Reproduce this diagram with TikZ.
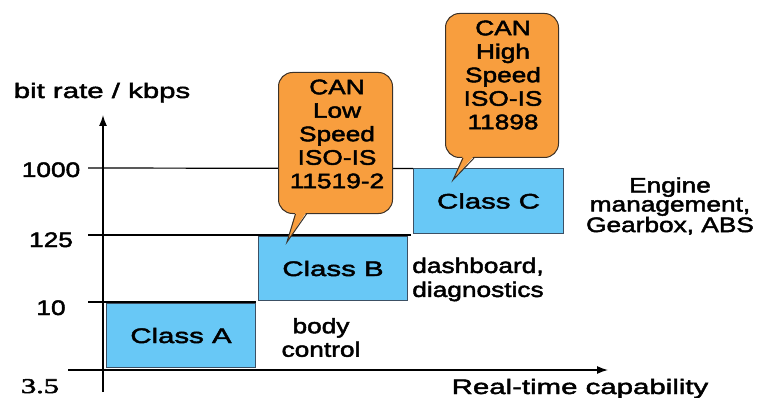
\documentclass[tikz,border=0pt]{standalone}
\usepackage{fontspec}
\setmainfont{Liberation Sans}[FakeStretch=1.4,FakeBold=2.2]
\newfontfamily\narrowsans{Liberation Sans}[FakeStretch=1.25,FakeBold=2.2]
\newfontfamily\numserif{Liberation Serif}[FakeStretch=1.45,FakeBold=2.5]
\usetikzlibrary{arrows.meta,calc}
\definecolor{classblue}{RGB}{104,200,246}
\definecolor{calloutorange}{RGB}{248,158,62}
\definecolor{boxedge}{RGB}{60,80,100}
\definecolor{bubbleedge}{RGB}{60,50,40}

\begin{document}
\begin{tikzpicture}[x=1pt,y=-1pt,
  lbl/.style={inner sep=0pt, font=\fontsize{21}{23.5}\selectfont, align=center},
  note/.style={lbl, font=\narrowsans\fontsize{21}{23.5}\selectfont},
  classbox/.style={draw=boxedge, line width=1pt, fill=classblue, inner sep=0pt,
                   font=\fontsize{21}{23.5}\selectfont},
  bubble/.style={draw=bubbleedge, line width=1pt, fill=calloutorange, rounded corners=14pt},
  axis/.style={line width=1.3pt, -{Latex[length=11pt,width=8pt]}},
  level/.style={line width=1.2pt}]
\useasboundingbox (0,0) rectangle (757,398);

% class boxes
\node[classbox, minimum width=149pt, minimum height=64pt, anchor=north west] (classA) at (106,303) {Class A};
\node[classbox, minimum width=149pt, minimum height=64pt, anchor=north west] (classB) at (258,236) {Class B};
\node[classbox, minimum width=150pt, minimum height=64pt, anchor=north west] (classC) at (413,168.5) {Class C};

% bit-rate levels
\coordinate (l1000) at (88,168);
\coordinate (l125) at (88,235);
\coordinate (l10) at (88,302);
\coordinate (l125end) at (411,235);
\draw[level] (l1000) -- (classC.north west);
\draw[level] (l125) -- (l125end);
\draw[level] (l10) -- (l10 -| classA.north east);

% axes
\coordinate (yfoot) at (103,392);
\coordinate (ytop) at (103,115);
\coordinate (xfoot) at (68,370);
\coordinate (xtip) at (608,370);
\draw[axis] (yfoot) -- (ytop);
\draw[axis] (xfoot) -- (xtip);

% axis labels and ticks
\node[lbl, anchor=base] (ylabel) at (102,98) {bit rate / kbps};
\node[lbl, anchor=base] (xlabel) at (580,394) {Real-time capability};
\node[note, anchor=base] (t1000) at (51,177) {1000};
\node[note, anchor=base] (t125) at (51,247) {125};
\node[note, anchor=base] (t10) at (51,315) {10};
\node[lbl, anchor=base, font=\numserif\fontsize{21}{24}\selectfont] (t35) at (40,393) {3.5};

% application texts
\node[note] (bodytxt) at (321,337.5) {body\\control};
\node[note, font=\narrowsans\fontsize{21}{24}\selectfont] (dashtxt) at (478,279.5) {dashboard,\\diagnostics};
\node[note, font=\narrowsans\fontsize{21}{19}\selectfont] (enginetxt) at (670,206) {Engine\\management,\\Gearbox, ABS};

% low-speed callout
\node[bubble, minimum width=114pt, minimum height=141pt, anchor=north west] (lowbub) at (278,72) {};
\coordinate (lowtip) at (287,242);
\fill[calloutorange] ($(lowbub.south)+(-40,-2)$) -- (lowtip) -- ($(lowbub.south)+(-29,-2)$) -- cycle;
\draw[bubbleedge, line width=1pt] ($(lowbub.south)+(-40,0)$) -- (lowtip) -- ($(lowbub.south)+(-29,0)$);
\node[note] (lowtxt) at (337,134) {CAN\\Low\\Speed\\ISO-IS\\11519-2};

% high-speed callout
\node[bubble, minimum width=113pt, minimum height=144pt, anchor=north west] (highbub) at (445,13) {};
\coordinate (hightip) at (453,180);
\fill[calloutorange] ($(highbub.south)+(-39,-2)$) -- (hightip) -- ($(highbub.south)+(-28,-2)$) -- cycle;
\draw[bubbleedge, line width=1pt] ($(highbub.south)+(-39,0)$) -- (hightip) -- ($(highbub.south)+(-28,0)$);
\node[note] (hightxt) at (503,75) {CAN\\High\\Speed\\ISO-IS\\11898};
\end{tikzpicture}
\end{document}
